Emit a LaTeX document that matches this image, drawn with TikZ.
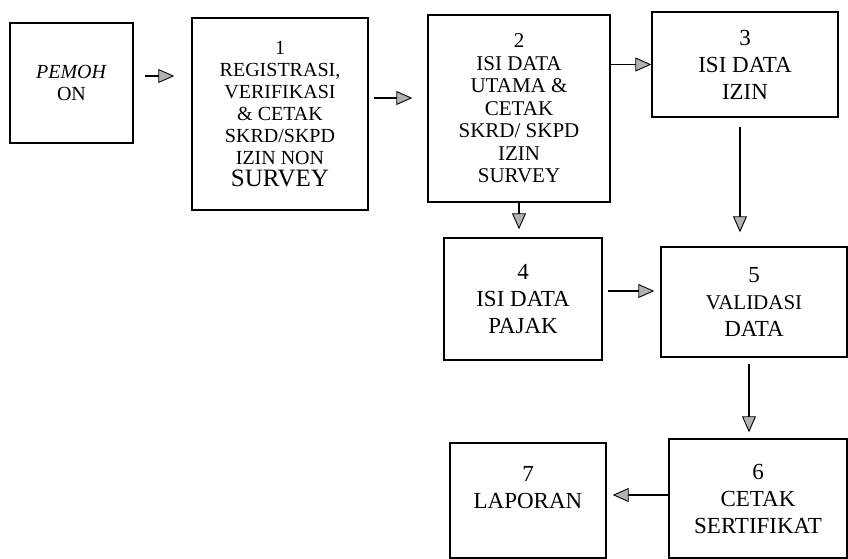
\documentclass[tikz,border=0pt]{standalone}
\usepackage{fontspec}
\setmainfont{Liberation Serif}
\usetikzlibrary{positioning,arrows.meta}

\tikzset{
  box/.style={draw,line width=1.4pt,align=center,inner sep=2pt},
  flow/.style={->,line width=1.2pt},
  small/.style={font=\fontsize{20}{22}\selectfont},
  big/.style={font=\fontsize{23}{27}\selectfont},
}

\begin{document}
\begin{tikzpicture}[x=1pt,y=-1pt,>={Triangle[length=16pt,width=14pt,fill=gray!60,line width=0.9pt]}]
\useasboundingbox (0,0) rectangle (848,559);
% boxes
\node[box,small,minimum width=123pt,minimum height=120pt] (pem) at (71.5,83) {\textit{PEMOH}\\ON};
\node[box,small,minimum width=176pt,minimum height=192pt] (reg) at (280,114) {1\\REGISTRASI,\\VERIFIKASI\\\& CETAK\\SKRD/SKPD\\IZIN NON\\{\fontsize{25}{27}\selectfont SURVEY}};
\node[box,font=\fontsize{21}{22.5}\selectfont,minimum width=182pt,minimum height=187pt] (ist) at (519,108.5) {2\\ISI DATA\\UTAMA \&\\CETAK\\SKRD/ SKPD\\IZIN\\SURVEY};
\node[box,big,minimum width=186pt,minimum height=105pt] (izin) at (745,64.5) {3\\ISI DATA\\IZIN};
\node[box,big,minimum width=158pt,minimum height=122pt] (pjk) at (523,299) {4\\ISI DATA\\PAJAK};
\node[box,big,minimum width=186pt,minimum height=110pt] (val) at (754,302) {5\\{\fontsize{21}{27}\selectfont VALIDASI}\\DATA};
\node[box,big,minimum width=178pt,minimum height=119pt] (cet) at (758,498.5) {6\\CETAK\\SERTIFIKAT};
\node[box,big,minimum width=156pt,minimum height=115pt] (lap) at (528,500.5) {7\\LAPORAN\\\mbox{}};
% arrows
\coordinate (a0) at ([yshift=7pt]pem.east);
\coordinate (a1) at ([yshift=16pt]reg.east);
\coordinate (a2) at ([xshift=-5pt]izin.south);
\coordinate (a3) at ([yshift=8pt]pjk.east);
\coordinate (a4) at ([xshift=-5pt]val.south);
\coordinate (a5) at ([yshift=3.5pt]cet.west);
\draw[flow,shorten <=11pt,shorten >=17pt] (a0) -- (a0 -| reg.west);
\draw[flow,shorten <=5pt,shorten >=15pt] (a1) -- (a1 -| ist.west);
\draw[flow] (izin.west -| ist.east) -- (izin.west);
\draw[flow,shorten >=8pt] (ist.south) -- (ist.south |- pjk.north);
\draw[flow,shorten <=9pt,shorten >=14pt] (a2) -- (a2 |- val.north);
\draw[flow,shorten <=5pt,shorten >=6pt] (a3) -- (a3 -| val.west);
\draw[flow,shorten <=6pt,shorten >=6pt] (a4) -- (a4 |- cet.north);
\draw[flow,shorten >=6pt] (a5) -- (a5 -| lap.east);
\end{tikzpicture}
\end{document}
